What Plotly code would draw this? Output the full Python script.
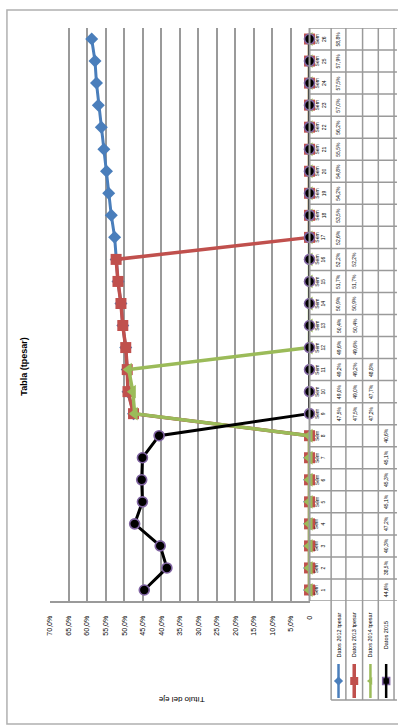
import plotly.graph_objects as go

W, H = 398, 726

# Categories (bottom to top) and the four series; None = empty cell
categorias = [f"Sem {i}" for i in range(1, 27)]
serie_azul = [None] * 8 + [0.475, 0.490, 0.492, 0.496, 0.504, 0.509, 0.517, 0.522,
                           0.526, 0.535, 0.542, 0.548, 0.555, 0.562, 0.570, 0.575, 0.579, 0.588]
serie_roja = [None] * 8 + [0.475, 0.490, 0.492, 0.496, 0.504, 0.509, 0.517, 0.522] + [None] * 10
serie_verde = [None] * 8 + [0.472, 0.477, 0.488] + [None] * 15
serie_negra = [0.446, 0.385, 0.403, 0.472, 0.451, 0.453, 0.451, 0.406] + [None] * 18

nombres = ["Datos 2012 tpesar", "Datos 2013 tpesar", "Datos 2014 tpesar", "Datos 2015"]
colores = ["#4a7ebb", "#c0504d", "#9bbb59", "#000000"]
simbolos = ["diamond", "square", "triangle-left", "circle"]

valores_eje = [0.70, 0.65, 0.60, 0.55, 0.50, 0.45, 0.40, 0.35, 0.30, 0.25, 0.20, 0.15, 0.10, 0.05, 0.0]
etiquetas_eje = ["70,0%", "65,0%", "60,0%", "55,0%", "50,0%", "45,0%", "40,0%", "35,0%",
                 "30,0%", "25,0%", "20,0%", "15,0%", "10,0%", "5,0%", "0"]

titulo = "Tabla (tpesar)"
titulo_eje = "Título del eje"

FONT = "Liberation Sans"
GRID = "#9a9a9a"


def px(x):
    return x / W


def py(y):
    return 1 - y / H


def fmt(v):
    return f"{v * 100:.1f}%".replace(".", ",")


series = [serie_azul, serie_roja, serie_verde, serie_negra]

fig = go.Figure()

# Empty cells are plotted as zero
for vals, nom, col, sim in zip(series, nombres, colores, simbolos):
    y_plot = [0 if v is None else v for v in vals]
    if sim == "circle":
        marker = dict(symbol=sim, size=10, color="#000000", line=dict(color="#8064a2", width=1.6))
        lw = 3
    elif sim == "diamond":
        marker = dict(symbol=sim, size=10, color=col)
        lw = 3
    elif sim == "square":
        marker = dict(symbol=sim, size=11, color=col)
        lw = 3.5
    else:
        marker = dict(symbol=sim, size=12, color=col)
        lw = 3.5
    fig.add_trace(go.Scatter(
        x=y_plot, y=categorias, mode="lines+markers", name=nom,
        line=dict(color=col, width=lw), marker=marker,
        xaxis="x", yaxis="y", showlegend=False, cliponaxis=False,
    ))

shapes = []
annotations = []

# Data table: column borders
col_x = [311, 333, 348, 365, 381, 397]
shapes.append(dict(type="line", xref="paper", yref="paper", x0=px(311), x1=px(311),
                   y0=py(28), y1=py(601), line=dict(color=GRID, width=2)))
for cx in col_x[1:]:
    shapes.append(dict(type="line", xref="paper", yref="paper", x0=px(cx), x1=px(cx),
                       y0=py(28), y1=py(700), line=dict(color=GRID, width=1.5)))
# Row borders
for j in range(len(categorias) + 1):
    shapes.append(dict(type="line", xref="paper", yref="y", x0=px(311), x1=px(400),
                       y0=j - 0.5, y1=j - 0.5, line=dict(color=GRID, width=1.5)))
shapes.append(dict(type="line", xref="paper", yref="paper", x0=px(333), x1=px(400),
                   y0=py(700), y1=py(700), line=dict(color=GRID, width=1.5)))

# Category labels and values in the table
for k, cat in enumerate(categorias):
    annotations.append(dict(x=px(322), y=cat, xref="paper", yref="y", text=cat.replace(" ", "<br>"),
                            textangle=-90, showarrow=False, xanchor="center", yanchor="middle",
                            font=dict(family=FONT, size=5, color="#000000")))
    for ci, vals in enumerate(series):
        v = vals[k]
        if v is None:
            continue
        cx = (col_x[ci + 1] + col_x[ci + 2]) / 2
        annotations.append(dict(x=px(cx), y=cat, xref="paper", yref="y", text=fmt(v),
                                textangle=-90, showarrow=False, xanchor="center", yanchor="middle",
                                font=dict(family=FONT, size=5, color="#000000")))

# Legend keys inside the table
for ci, (nom, col) in enumerate(zip(nombres, colores)):
    cx = (col_x[ci + 1] + col_x[ci + 2]) / 2
    annotations.append(dict(x=px(cx), y=py(635), xref="paper", yref="paper", text=nom,
                            textangle=-90, showarrow=False, xanchor="center", yanchor="middle",
                            font=dict(family=FONT, size=5.5, color="#000000")))
    shapes.append(dict(type="line", xref="paper", yref="paper", x0=px(cx), x1=px(cx),
                       y0=py(664), y1=py(698), line=dict(color=col, width=2.5 if ci != 1 else 3.5)))

key_x = [(col_x[i + 1] + col_x[i + 2]) / 2 for i in range(4)]
for i, (col, sim) in enumerate(zip(colores, simbolos)):
    if sim == "circle":
        mk = dict(symbol="square", size=7, color="#000000", line=dict(color="#8064a2", width=1.5))
    else:
        mk = dict(symbol=sim, size=7 if sim != "square" else 8, color=col)
    fig.add_trace(go.Scatter(x=[key_x[i]], y=[681], mode="markers", marker=mk,
                             xaxis="x2", yaxis="y2", showlegend=False, hoverinfo="skip"))

# Chart border
shapes.append(dict(type="rect", xref="paper", yref="paper", x0=px(3), x1=px(420),
                   y0=py(724), y1=py(10), line=dict(color="#b0b0b0", width=1.5)))

# Titles, placed on the full-page pixel axes
annotations.append(dict(x=20, y=367, xref="x2", yref="y2", text=f"<b>{titulo}</b>",
                        textangle=-90, showarrow=False, xanchor="center", yanchor="middle",
                        font=dict(family=FONT, size=9, color="#000000")))
annotations.append(dict(x=181, y=700, xref="x2", yref="y2", text=titulo_eje,
                        textangle=180, showarrow=False, xanchor="center", yanchor="middle",
                        font=dict(family=FONT, size=8, color="#000000")))

fig.update_layout(
    width=W, height=H, autosize=False,
    margin=dict(l=0, r=0, t=0, b=0),
    paper_bgcolor="#ffffff", plot_bgcolor="rgba(0,0,0,0)",
    showlegend=False,
    xaxis=dict(domain=[px(47), px(311)], range=[0.70, 0.0], anchor="y",
               tickvals=valores_eje, ticktext=etiquetas_eje, tickangle=-90,
               tickfont=dict(family=FONT, size=7, color="#000000"),
               showgrid=True, gridcolor=GRID, gridwidth=2,
               showline=True, linecolor=GRID, linewidth=2,
               zeroline=False, ticks="", ticklabelstandoff=10, fixedrange=True),
    yaxis=dict(domain=[py(601), py(28)], range=[-0.5, len(categorias) - 0.5], anchor="x",
               type="category", categoryorder="array", categoryarray=categorias,
               showticklabels=False, showgrid=False, zeroline=False, showline=False,
               ticks="", fixedrange=True),
    xaxis2=dict(domain=[0, 1], range=[0, W], anchor="y2", visible=False, fixedrange=True),
    yaxis2=dict(domain=[0, 1], range=[H, 0], anchor="x2", visible=False, fixedrange=True),
    shapes=shapes,
    annotations=annotations,
)

fig.write_html("out.html")
